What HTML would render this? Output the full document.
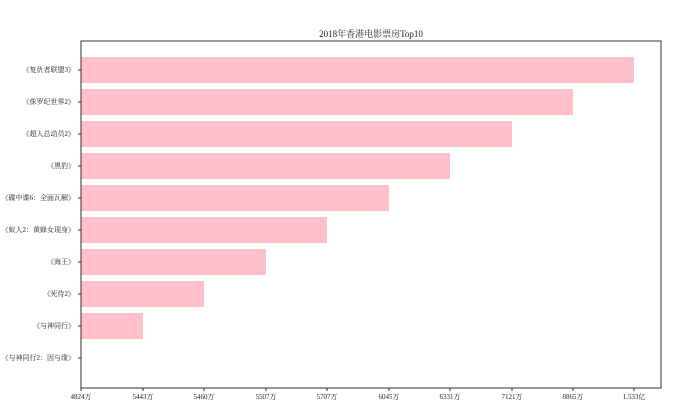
<!DOCTYPE html><html><head><meta charset="utf-8"><style>body{margin:0;background:#fff}svg text{font-family:"Liberation Serif","Noto Serif CJK SC",serif;fill:#222}</style></head><body>
<svg width="692" height="414" xmlns="http://www.w3.org/2000/svg">
<text x="371" y="37" font-size="9" text-anchor="middle">2018年香港电影票房Top10</text>
<g fill="#ffc0cb">
<rect x="81" y="57" width="553" height="26"/>
<rect x="81" y="89" width="492" height="26"/>
<rect x="81" y="121" width="431" height="26"/>
<rect x="81" y="153" width="369" height="26"/>
<rect x="81" y="185" width="308" height="26"/>
<rect x="81" y="217" width="246" height="26"/>
<rect x="81" y="249" width="185" height="26"/>
<rect x="81" y="281" width="123" height="26"/>
<rect x="81" y="313" width="62" height="26"/>
</g>
<rect x="81" y="41" width="580" height="347" fill="none" stroke="#333" stroke-width="1"/>
<g font-size="7" text-anchor="end">
<text x="75" y="72">《复仇者联盟3》</text>
<text x="75" y="104">《侏罗纪世界2》</text>
<text x="75" y="136">《超人总动员2》</text>
<text x="75" y="168">《黑豹》</text>
<text x="75" y="200">《碟中谍6：全面瓦解》</text>
<text x="75" y="232">《蚁人2：黄蜂女现身》</text>
<text x="75" y="264">《海王》</text>
<text x="75" y="296">《死侍2》</text>
<text x="75" y="328">《与神同行》</text>
<text x="75" y="360">《与神同行2：因与缘》</text>
</g>
<g stroke="#333"><path d="M78 70h3M78 102h3M78 134h3M78 166h3M78 198h3M78 230h3M78 262h3M78 294h3M78 326h3M78 358h3M81 388v3M143 388v3M204 388v3M266 388v3M327 388v3M389 388v3M450 388v3M512 388v3M573 388v3M634 388v3"/></g>
<g font-size="7" text-anchor="middle">
<text x="81" y="399">4824万</text><text x="143" y="399">5443万</text><text x="204" y="399">5460万</text><text x="266" y="399">5507万</text><text x="327" y="399">5707万</text><text x="389" y="399">6045万</text><text x="450" y="399">6331万</text><text x="512" y="399">7121万</text><text x="573" y="399">8865万</text><text x="634" y="399">1.533亿</text>
</g>
</svg></body></html>
